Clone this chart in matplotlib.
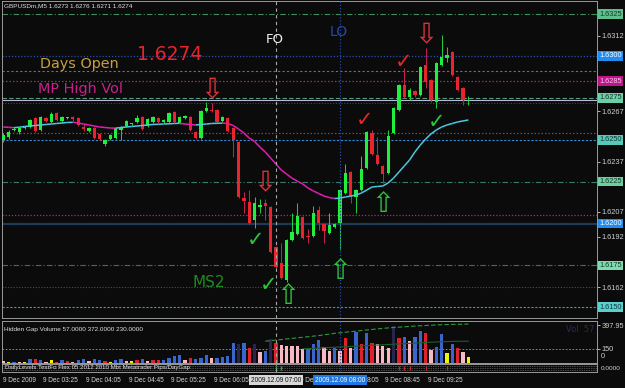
import matplotlib
matplotlib.use('Agg')
import matplotlib.pyplot as plt
from matplotlib.collections import LineCollection
import numpy as np

W, H = 625, 388
BG = '#0b0b0b'

# ---------------- data ----------------
symbol_title = 'GBPUSDm,M5 1.6273 1.6276 1.6271 1.6274'

open_ = [1.62498, 1.62516, 1.62558, 1.62546, 1.62570, 1.62576, 1.62630, 1.62558, 1.62630, 1.62606,
         1.62659, 1.62612, 1.62630, 1.62636, 1.62630, 1.62576, 1.62552, 1.62570, 1.62534, 1.62474,
         1.62504, 1.62510, 1.62558, 1.62582, 1.62594, 1.62606, 1.62636, 1.62582, 1.62606, 1.62630,
         1.62606, 1.62606, 1.62665, 1.62600, 1.62630, 1.62636, 1.62546, 1.62510, 1.62671, 1.62677,
         1.62677, 1.62612, 1.62630, 1.62570, 1.62486, 1.62152, 1.62128, 1.62021, 1.62098, 1.62122,
         1.62098, 1.61859, 1.61764, 1.61662, 1.61901, 1.61937, 1.62039, 1.61925, 1.61925, 1.62080,
         1.61997, 1.61943, 1.61979, 1.62003, 1.62182, 1.62307, 1.62158, 1.62200, 1.62331, 1.62540,
         1.62409, 1.62343, 1.62301, 1.62540, 1.62677, 1.62827, 1.62755, 1.62791, 1.62767, 1.62946,
         1.62856, 1.62725, 1.62946, 1.62988, 1.63024, 1.62874, 1.62809, 1.62730]
high = [1.62540, 1.62558, 1.62576, 1.62576, 1.62582, 1.62624, 1.62636, 1.62641, 1.62636, 1.62665,
        1.62665, 1.62641, 1.62636, 1.62641, 1.62636, 1.62594, 1.62576, 1.62576, 1.62540, 1.62504,
        1.62534, 1.62576, 1.62582, 1.62618, 1.62600, 1.62647, 1.62641, 1.62630, 1.62641, 1.62636,
        1.62624, 1.62665, 1.62671, 1.62641, 1.62647, 1.62641, 1.62552, 1.62677, 1.62725, 1.62719,
        1.62683, 1.62641, 1.62636, 1.62576, 1.62492, 1.62188, 1.62200, 1.62158, 1.62146, 1.62146,
        1.62104, 1.61865, 1.61883, 1.61907, 1.62062, 1.62122, 1.62044, 1.61967, 1.62104, 1.62104,
        1.62003, 1.62062, 1.62003, 1.62206, 1.62355, 1.62313, 1.62206, 1.62403, 1.62552, 1.62558,
        1.62516, 1.62349, 1.62558, 1.62695, 1.62833, 1.62928, 1.62809, 1.62797, 1.62940, 1.63047,
        1.62862, 1.62964, 1.63125, 1.63053, 1.63030, 1.62880, 1.62815, 1.62760]
low = [1.62486, 1.62504, 1.62552, 1.62534, 1.62564, 1.62570, 1.62546, 1.62552, 1.62606, 1.62600,
       1.62612, 1.62600, 1.62624, 1.62612, 1.62582, 1.62552, 1.62546, 1.62504, 1.62498, 1.62462,
       1.62498, 1.62504, 1.62498, 1.62576, 1.62588, 1.62600, 1.62558, 1.62576, 1.62600, 1.62600,
       1.62600, 1.62600, 1.62600, 1.62594, 1.62624, 1.62552, 1.62504, 1.62504, 1.62665, 1.62665,
       1.62600, 1.62606, 1.62546, 1.62397, 1.62152, 1.62062, 1.61997, 1.61973, 1.62062, 1.62021,
       1.61824, 1.61734, 1.61668, 1.61650, 1.61895, 1.61931, 1.61907, 1.61883, 1.61919, 1.61961,
       1.61883, 1.61937, 1.61973, 1.61841, 1.62176, 1.62122, 1.62062, 1.62194, 1.62325, 1.62409,
       1.62349, 1.62241, 1.62295, 1.62534, 1.62671, 1.62749, 1.62737, 1.62755, 1.62761, 1.62809,
       1.62725, 1.62689, 1.62940, 1.62964, 1.62880, 1.62791, 1.62707, 1.62710]
close = [1.62528, 1.62546, 1.62564, 1.62570, 1.62576, 1.62618, 1.62552, 1.62636, 1.62612, 1.62653,
         1.62618, 1.62636, 1.62632, 1.62624, 1.62588, 1.62564, 1.62570, 1.62510, 1.62504, 1.62498,
         1.62528, 1.62570, 1.62576, 1.62612, 1.62596, 1.62630, 1.62564, 1.62624, 1.62636, 1.62606,
         1.62618, 1.62659, 1.62606, 1.62636, 1.62641, 1.62558, 1.62510, 1.62671, 1.62689, 1.62671,
         1.62606, 1.62636, 1.62552, 1.62498, 1.62158, 1.62134, 1.62003, 1.62122, 1.62110, 1.62104,
         1.61830, 1.61740, 1.61674, 1.61901, 1.61949, 1.62044, 1.61913, 1.61919, 1.62062, 1.62003,
         1.61955, 1.61991, 1.61997, 1.62200, 1.62301, 1.62158, 1.62200, 1.62325, 1.62546, 1.62415,
         1.62355, 1.62295, 1.62522, 1.62689, 1.62827, 1.62755, 1.62797, 1.62767, 1.62934, 1.62844,
         1.62737, 1.62958, 1.62994, 1.63006, 1.62886, 1.62797, 1.62737, 1.62740]
ma = [1.62576, 1.62574, 1.62572, 1.62575, 1.62579, 1.62582, 1.62585, 1.62588, 1.62591, 1.62594,
      1.62597, 1.62600, 1.62603, 1.62604, 1.62600, 1.62594, 1.62588, 1.62582, 1.62576, 1.62573,
      1.62570, 1.62569, 1.62573, 1.62576, 1.62579, 1.62582, 1.62585, 1.62588, 1.62591, 1.62592,
      1.62594, 1.62595, 1.62597, 1.62598, 1.62594, 1.62591, 1.62588, 1.62591, 1.62594, 1.62597,
      1.62598, 1.62599, 1.62597, 1.62585, 1.62564, 1.62540, 1.62510, 1.62490, 1.62456, 1.62427,
      1.62391, 1.62355, 1.62319, 1.62295, 1.62271, 1.62253, 1.62236, 1.62212, 1.62194, 1.62179,
      1.62164, 1.62155, 1.62149, 1.62152, 1.62158, 1.62164, 1.62170, 1.62182, 1.62200, 1.62218,
      1.62221, 1.62224, 1.62242, 1.62271, 1.62307, 1.62343, 1.62379, 1.62427, 1.62468, 1.62504,
      1.62534, 1.62558, 1.62576, 1.62588, 1.62597, 1.62606, 1.62612, 1.62618]

volume = [20, 10, 7, 12, 8, 36, 36, 32, 10, 25,
          10, 30, 18, 10, 25, 45, 18, 45, 32, 20,
          12, 32, 43, 20, 18, 25, 36, 18, 25, 32,
          25, 46, 68, 82, 29, 46, 39, 54, 78, 50,
          54, 57, 75, 207, 196, 207, 154, 196, 114, 128,
          253, 211, 189, 178, 178, 178, 143, 143, 196, 243,
          164, 125, 153, 120, 261, 153, 325, 200, 321, 211,
          196, 182, 153, 393, 261, 275, 232, 271, 343, 318,
          139, 171, 307, 100, 196, 161, 111, 57]
vol_class = list('PYBPYBRBPY' 'RBRPBBPBBR' 'YBBPYRBPRR' 'BBBBPRBBBP'
                 'BBBBNBRNPB' 'NRPPPPPBBB' 'PPBPRPBRBR' 'PPPNRBPBBR' 'PBBYBRPY')
vol_fast_start = 49
vol_fast = [230, 236, 242, 248, 254, 260, 266, 272, 278, 284,
            290, 298, 306, 314, 320, 326, 332, 338, 344, 350,
            356, 362, 367, 372, 376, 380, 384, 388, 392, 395,
            398, 401, 404, 406, 408, 410, 411, 412, 413]
vol_slow_start = 56
vol_slow = [150, 152, 155, 158, 160, 163, 166, 168, 171, 174,
            177, 180, 183, 186, 189, 192, 195, 198, 201, 204,
            207, 210, 213, 216, 219, 222, 224, 226, 228, 229, 230, 230]

# horizontal levels
level_prices = [1.6325, 1.6300, 1.6291, 1.6285, 1.6275, 1.6274, 1.6272, 1.6254,
                1.6250, 1.6225, 1.6205, 1.6200, 1.6175, 1.6162, 1.6150]
level_styles = [('#3E8E5E', (0, (5, 2, 1, 2)), 0.8), ('#2850B0', (0, (1, 1.5)), 0.9),
                ('#9A6A30', (0, (2, 2)), 0.8), ('#8A3A6A', (0, (1.2, 1.6)), 0.9),
                ('#5A9A7A', (0, (4, 2)), 0.8), ('#B8B8D8', '-', 0.8),
                ('#2A5A2A', (0, (1, 1.5)), 0.8), ('#7A4A4A', (0, (1.2, 1.6)), 0.9),
                ('#3A8AD0', (0, (2, 1.5)), 0.8), ('#3A7A6A', (0, (5, 2, 1, 2)), 0.8),
                ('#C0207A', (0, (1, 1.5)), 0.9), ('#1E3A5A', '-', 1.6),
                ('#3A6A8A', (0, (5, 2, 1, 2)), 0.8), ('#2A6A2A', (0, (1, 1.5)), 0.8),
                ('#3A9AB0', (0, (2, 1.5)), 0.8)]
box_prices = [1.6325, 1.6300, 1.6285, 1.6275, 1.6250, 1.6225, 1.6200, 1.6175, 1.6150]
box_styles = [('#5EBE8E', '#163A28'), ('#1E8CF0', '#FFFFFF'), ('#C0158A', '#F6C8E8'),
              ('#6CCFA8', '#163A28'), ('#58C8B8', '#123838'), ('#6CCFA0', '#163A28'),
              ('#1E8CF0', '#FFFFFF'), ('#7CDCB0', '#163A28'), ('#58D0D0', '#123838')]
# scale labels that are not hidden under a level box
price_ticks = [1.6162, 1.6192, 1.6207, 1.6237, 1.6267, 1.6312]

fo_bar, lo_bar = 51, 63
down_arrows = [(39, 1.62797), (49, 1.62241), (79, 1.63125)]
up_arrows = [(53.2, 1.61566), (63, 1.61716), (71, 1.62116)]
red_checks = [(67.6, 1.62618), (74.8, 1.62964)]
green_checks = [(81.0, 1.62606), (47.2, 1.61901), (49.6, 1.61635)]

time_bars = [0, 8, 16, 24, 32, 40, 72, 80]
time_texts = ['9 Dec 2009', '9 Dec 03:25', '9 Dec 04:05', '9 Dec 04:45', '9 Dec 05:25',
              '9 Dec 06:05', '9 Dec 08:45', '9 Dec 09:25']
# visible remnants of labels partly hidden behind the cursor boxes
time_partial = [(56, '9 De'), (64, '8:05')]

# ---------------- figure ----------------
fig = plt.figure(figsize=(W / 100, H / 100), dpi=100, facecolor=BG)


def fx(x):
    return x / W


def fy(y):
    return 1 - y / H


SP = 5.345
XL = (-0.25, 595 / SP - 0.25)


def px_of_bar(b):
    return 2 + (b - XL[0]) * SP


ax = fig.add_axes([fx(2), fy(318), 595 / W, 317 / H], facecolor=BG)
axv = fig.add_axes([fx(2), fy(363), 595 / W, 42 / H], facecolor=BG)
axs = fig.add_axes([fx(2), fy(372), 595 / W, 8 / H], facecolor=BG)
for a in (ax, axv, axs):
    a.set_xlim(*XL)
    for s in a.spines.values():
        s.set_color('#9a9a9a')
        s.set_linewidth(0.7)
    a.tick_params(axis='x', bottom=False, labelbottom=False)
    a.tick_params(axis='y', left=False, labelleft=False)

ax.set_ylim(1.61436, 1.63328)

# levels
for p, (col, ls, lw) in zip(level_prices, level_styles):
    ax.axhline(p, color=col, ls=ls, lw=lw, zorder=1)

# vertical session lines
for a in (ax, axv, axs):
    a.axvline(fo_bar, color='#A8A8A8', ls=(0, (3, 3)), lw=0.8, zorder=6)
    a.axvline(lo_bar, color='#2848A8', ls=(0, (1, 1.5)), lw=0.9, zorder=6)

# candles
o, h, l, c = map(np.array, (open_, high, low, close))
k = np.arange(len(o))
up = c >= o
ax.vlines(k[up], l[up], h[up], color='#22C83E', lw=0.75, zorder=3)
ax.vlines(k[~up], l[~up], h[~up], color='#C42050', lw=0.75, zorder=3)
body = np.maximum(np.abs(c - o), 0.00005)
ax.bar(k, body, bottom=np.minimum(o, c), width=0.62,
       color=np.where(up, '#1EF03C', '#E8242C'), linewidth=0, zorder=4)

# moving average coloured by slope
mav = np.array(ma)
pts = np.column_stack([k, mav])
segs = np.stack([pts[:-1], pts[1:]], axis=1)
cols = ['#4CC8E0' if mav[i + 1] >= mav[i] else '#E41CB4' for i in range(len(mav) - 1)]
ax.add_collection(LineCollection(segs, colors=cols, linewidths=1.1, zorder=5))

# right price axis
ax.yaxis.tick_right()
ax.set_yticks(price_ticks)
ax.set_yticklabels([f'{t:.4f}' for t in price_ticks], family='Liberation Sans')
ax.tick_params(axis='y', right=True, labelright=True, colors='#D0D0D0',
               labelsize=5.3, length=2, width=0.6, pad=1.5)
for p, (bg, fg) in zip(box_prices, box_styles):
    ax.text(1.0035, p, f'{p:.4f}', transform=ax.get_yaxis_transform(), ha='left',
            va='center', fontsize=5.3, color=fg, family='Liberation Sans',
            bbox=dict(boxstyle='square,pad=0.18', fc=bg, ec='none'),
            clip_on=False, zorder=10)

# signal arrows & checks
for b, p in down_arrows:
    ax.text(b, p, '\u21e9', color='#E0303A', fontsize=20, ha='center', va='center', zorder=7)
for b, p in up_arrows:
    ax.text(b, p, '\u21e7', color='#30C040', fontsize=20, ha='center', va='center', zorder=7)
for b, p in red_checks:
    ax.text(b, p, '\u2713', color='#E02828', fontsize=15, ha='center', va='center',
            fontweight='bold', zorder=7)
for b, p in green_checks:
    ax.text(b, p, '\u2713', color='#28C83C', fontsize=15, ha='center', va='center',
            fontweight='bold', zorder=7)

# chart texts
fig.text(fx(4), fy(6), symbol_title, fontsize=4.6, color='#E0E0E0', va='center',
         family='Liberation Sans')
fig.text(fx(137), fy(60), '1.6274', fontsize=13.5, color='#E8242C', va='baseline')
fig.text(fx(40), fy(68), 'Days Open', fontsize=10.4, color='#C8A040', va='baseline')
fig.text(fx(38), fy(93), 'MP High Vol', fontsize=10.4, color='#C8208C', va='baseline')
fig.text(fx(266), fy(43), 'FO', fontsize=9.5, color='#F0F0F0', va='baseline')
fig.text(fx(330), fy(36), 'LO', fontsize=10, color='#2848A8', va='baseline')
fig.text(fx(193), fy(287), 'MS2', fontsize=11, color='#1E8A1E', va='baseline')

# volume panel
vcol = {'B': '#3A66CC', 'R': '#E0202A', 'P': '#F8B8C4', 'N': '#26264E', 'Y': '#F4F400'}
axv.set_ylim(-3, 446)
axv.axhline(150, color='#9a9a9a', ls=(0, (2, 2)), lw=0.6, zorder=1)
axv.bar(k, volume, width=0.62, color=[vcol[v] for v in vol_class], linewidth=0, zorder=3)
axv.plot(np.arange(vol_fast_start, vol_fast_start + len(vol_fast)), vol_fast,
         color='#2E9A3A', ls=(0, (4, 2)), lw=0.8, zorder=4)
axv.plot(np.arange(vol_slow_start, vol_slow_start + len(vol_slow)), vol_slow,
         color='#1E5E28', lw=0.8, zorder=4)
axv.yaxis.tick_right()
axv.set_yticks([397.95, 150])
axv.set_yticklabels(['397.95', '150'], family='Liberation Sans')
axv.tick_params(axis='y', right=True, labelright=True, colors='#D0D0D0',
                labelsize=5.3, length=2, width=0.6, pad=1.5)
fig.text(fx(601), fy(357), '0', fontsize=5.3, color='#D0D0D0', va='center',
         family='Liberation Sans')
fig.text(fx(4), fy(329), 'Hidden Gap Volume 57.0000 372.0000 230.0000', fontsize=4.6,
         color='#E0E0E0', va='center', family='Liberation Sans')
fig.text(fx(566), fy(329), 'Vol  57', fontsize=6, color='#2A2A5E', va='center')

# bottom strip
axs.set_ylim(0, 1)
for yy in (0.2, 0.5, 0.8):
    axs.axhline(yy, color='#8a8a8a', ls=(0, (1, 1.5)), lw=0.5)
axs.vlines([74, 75, 76, 79, 83], 0.3, 0.7, color='#E02020', lw=0.9)
axs.vlines([51, 52], 0.2, 0.8, color='#20C040', lw=0.9)
fig.text(fx(5), fy(367.5), 'DailyLevels TestFo Flex 05 2012 2010 Mbt Metatrader Pips/DayGap',
         fontsize=4.4, color='#E8E8E8', va='center', family='Liberation Sans')
fig.text(fx(601), fy(368), '0.0000', fontsize=4.6, color='#D0D0D0', va='center',
         family='Liberation Sans')

# time axis
for b, t in zip(time_bars, time_texts):
    x = max(px_of_bar(b) - 3, 3)
    fig.text(fx(x), fy(380), t, fontsize=4.7, color='#D8D8D8', va='center',
             family='Liberation Sans')
fig.text(fx(px_of_bar(56) - 3), fy(380), time_partial[0][1], fontsize=4.7, color='#D8D8D8',
         va='center', family='Liberation Sans')
fig.text(fx(px_of_bar(lo_bar) + 27), fy(380), time_partial[1][1], fontsize=4.7,
         color='#D8D8D8', va='center', family='Liberation Sans')
fig.text(fx(px_of_bar(fo_bar)), fy(380), '2009.12.09 07:00', fontsize=4.7, color='#101010',
         ha='center', va='center', family='Liberation Sans', zorder=5,
         bbox=dict(boxstyle='square,pad=0.25', fc='#D8D8D8', ec='none'))
fig.text(fx(px_of_bar(lo_bar)), fy(380), '2009.12.09 08:00', fontsize=4.7, color='#FFFFFF',
         ha='center', va='center', family='Liberation Sans', zorder=5,
         bbox=dict(boxstyle='square,pad=0.25', fc='#1E78E0', ec='none'))

fig.savefig('out.png', dpi=100, facecolor=BG)
